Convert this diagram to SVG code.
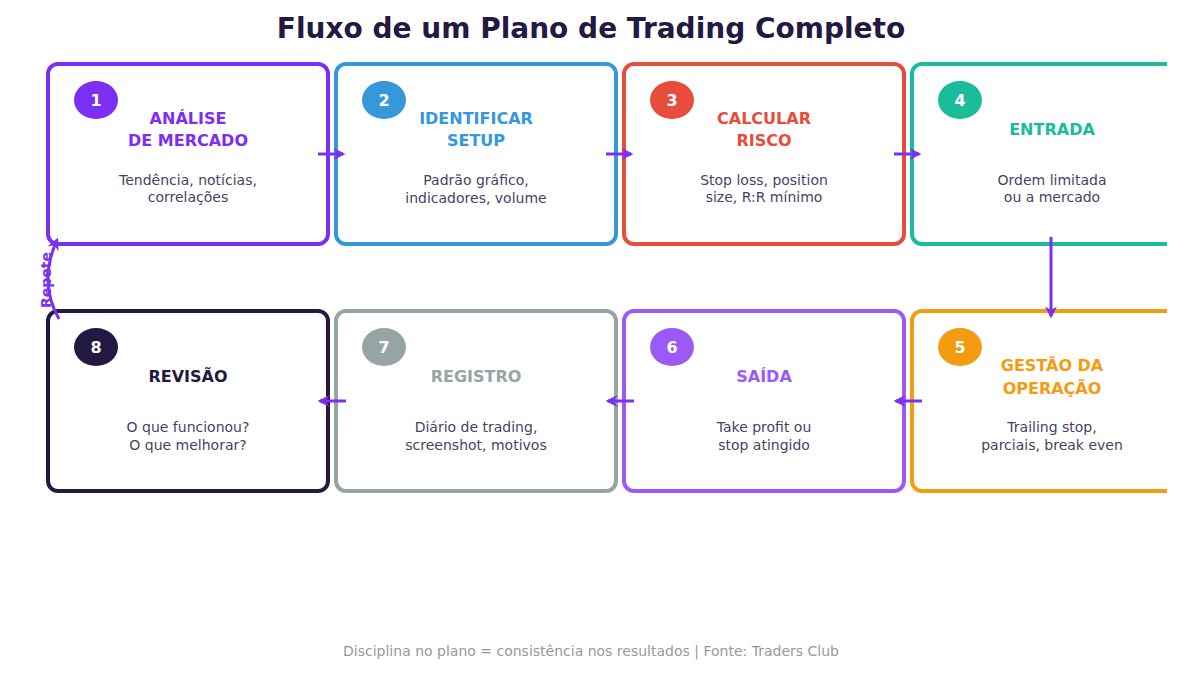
<svg xmlns="http://www.w3.org/2000/svg" width="1182" height="675" viewBox="0 0 1182 675">
<style>
text{font-family:"DejaVu Sans",sans-serif;text-anchor:middle}
.box{fill:#fff;stroke-width:4}
.num{fill:#fff;font-size:16px;font-weight:bold}
.t{font-size:16px;font-weight:bold}
.d{font-size:14px;fill:#4a3f63}
.c{stroke:#7b2ff2;stroke-width:3;fill:none;marker-end:url(#ah)}
</style>
<defs>
<marker id="ah" viewBox="0 0 10 10" refX="8" refY="5" markerWidth="4" markerHeight="4" orient="auto"><path d="M0,0 L10,5 L0,10 L3,5 z" fill="#7b2ff2"/></marker>
<clipPath id="cl"><rect x="0" y="0" width="1167" height="675"/></clipPath>
</defs>
<rect width="1182" height="675" fill="#fff"/>
<text x="591" y="38" font-size="28" font-weight="bold" fill="#231942">Fluxo de um Plano de Trading Completo</text>
<g clip-path="url(#cl)">
<g id="n1"><rect class="box" x="48" y="64" width="280" height="180" rx="10" stroke="#7b2ff2"/><ellipse cx="96" cy="100" rx="22" ry="19" fill="#7b2ff2"/><text class="num" x="96" y="106">1</text><text class="t" x="188" y="124" fill="#7b2ff2">ANÁLISE</text><text class="t" x="188" y="146" fill="#7b2ff2">DE MERCADO</text><text class="d" x="188" y="185">Tendência, notícias,</text><text class="d" x="188" y="202">correlações</text></g>
<g id="n2"><rect class="box" x="336" y="64" width="280" height="180" rx="10" stroke="#3498db"/><ellipse cx="384" cy="100" rx="22" ry="19" fill="#3498db"/><text class="num" x="384" y="106">2</text><text class="t" x="476" y="124" fill="#3498db">IDENTIFICAR</text><text class="t" x="476" y="146" fill="#3498db">SETUP</text><text class="d" x="476" y="185">Padrão gráfico,</text><text class="d" x="476" y="203">indicadores, volume</text></g>
<g id="n3"><rect class="box" x="624" y="64" width="280" height="180" rx="10" stroke="#e74c3c"/><ellipse cx="672" cy="100" rx="22" ry="19" fill="#e74c3c"/><text class="num" x="672" y="106">3</text><text class="t" x="764" y="124" fill="#e74c3c">CALCULAR</text><text class="t" x="764" y="146" fill="#e74c3c">RISCO</text><text class="d" x="764" y="185">Stop loss, position</text><text class="d" x="764" y="202">size, R:R mínimo</text></g>
<g id="n4"><rect class="box" x="912" y="64" width="280" height="180" rx="10" stroke="#1abc9c"/><ellipse cx="960" cy="100" rx="22" ry="19" fill="#1abc9c"/><text class="num" x="960" y="106">4</text><text class="t" x="1052" y="135" fill="#1abc9c">ENTRADA</text><text class="d" x="1052" y="185">Ordem limitada</text><text class="d" x="1052" y="202">ou a mercado</text></g>
<g id="n5"><rect class="box" x="912" y="311" width="280" height="180" rx="10" stroke="#f39c12"/><ellipse cx="960" cy="347" rx="22" ry="19" fill="#f39c12"/><text class="num" x="960" y="353">5</text><text class="t" x="1052" y="371" fill="#f39c12">GESTÃO DA</text><text class="t" x="1052" y="394" fill="#f39c12">OPERAÇÃO</text><text class="d" x="1052" y="432">Trailing stop,</text><text class="d" x="1052" y="450">parciais, break even</text></g>
</g>
<g id="n6"><rect class="box" x="624" y="311" width="280" height="180" rx="10" stroke="#9b59f6"/><ellipse cx="672" cy="347" rx="22" ry="19" fill="#9b59f6"/><text class="num" x="672" y="353">6</text><text class="t" x="764" y="382" fill="#9b59f6">SAÍDA</text><text class="d" x="764" y="432">Take profit ou</text><text class="d" x="764" y="450">stop atingido</text></g>
<g id="n7"><rect class="box" x="336" y="311" width="280" height="180" rx="10" stroke="#95a5a6"/><ellipse cx="384" cy="347" rx="22" ry="19" fill="#95a5a6"/><text class="num" x="384" y="353">7</text><text class="t" x="476" y="382" fill="#95a5a6">REGISTRO</text><text class="d" x="476" y="432">Diário de trading,</text><text class="d" x="476" y="450">screenshot, motivos</text></g>
<g id="n8"><rect class="box" x="48" y="311" width="280" height="180" rx="10" stroke="#231942"/><ellipse cx="96" cy="347" rx="22" ry="19" fill="#231942"/><text class="num" x="96" y="353">8</text><text class="t" x="188" y="382" fill="#231942">REVISÃO</text><text class="d" x="188" y="432">O que funcionou?</text><text class="d" x="188" y="450">O que melhorar?</text></g>
<g id="connectors">
<line class="c" x1="318" y1="154" x2="343" y2="154"/>
<line class="c" x1="606" y1="154" x2="631" y2="154"/>
<line class="c" x1="894" y1="154" x2="919" y2="154"/>
<line class="c" x1="1051" y1="237" x2="1051" y2="316"/>
<line class="c" x1="922" y1="401" x2="896" y2="401"/>
<line class="c" x1="634" y1="401" x2="608" y2="401"/>
<line class="c" x1="346" y1="401" x2="320" y2="401"/>
<path class="c" d="M59,319 Q38,282 57,240"/>
<text x="46" y="280" font-size="14" font-weight="bold" fill="#7b2ff2" transform="rotate(-90 46 280)" dy="5">Repete</text>
</g>
<text x="591" y="656" font-size="14" fill="#999">Disciplina no plano = consistência nos resultados | Fonte: Traders Club</text>
</svg>
